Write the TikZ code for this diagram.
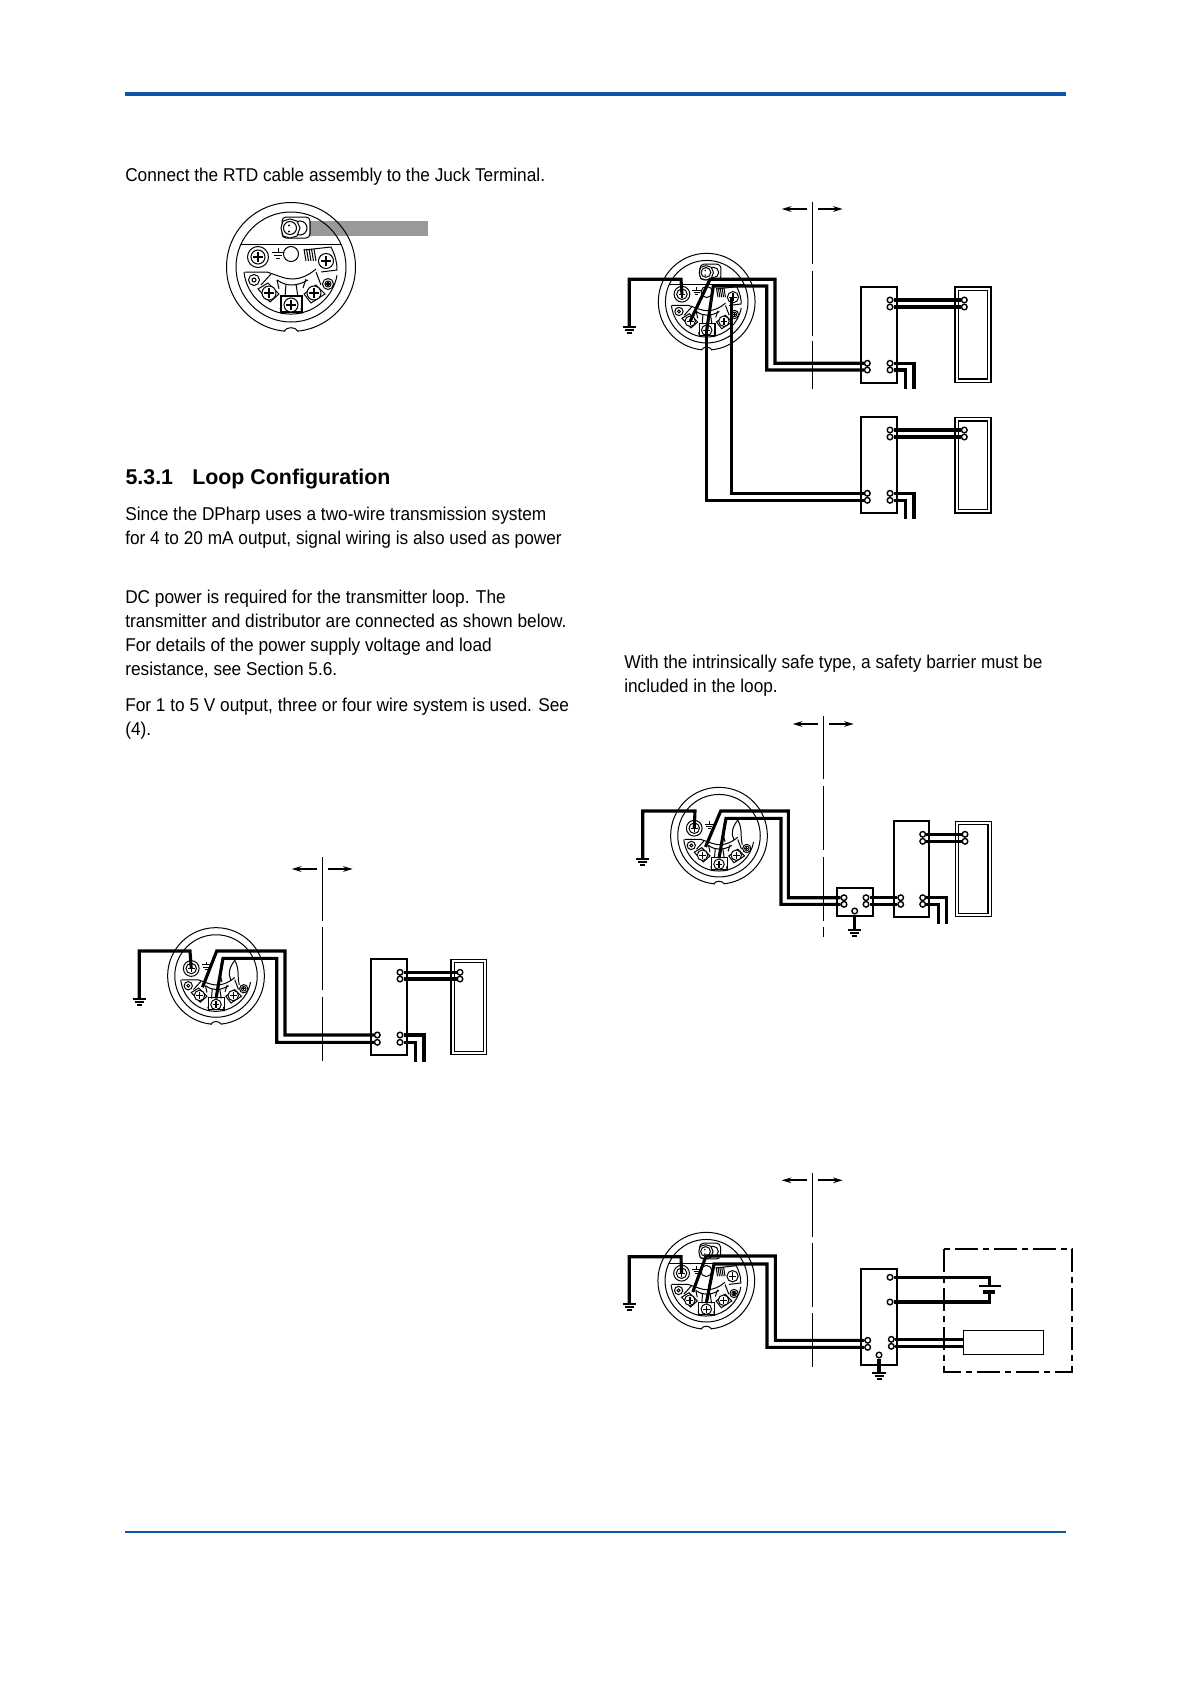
\documentclass[tikz,border=0pt]{standalone}
\usepackage{fontspec}
\setmainfont{Liberation Sans}
\newfontfamily\bodyfont[FakeStretch=.93]{Liberation Sans}
\usetikzlibrary{arrows.meta}
\definecolor{ruleblue}{HTML}{0B57A8}

% one coordinate unit is one pixel of the page
\newcommand{\headparts}{%
    \draw[hl] (0,0) circle[radius=64.5] (0,0) circle[radius=55];
    \fill[white] (-6,62) rectangle (6,67);
    \draw[hl] (-7,64.2) .. controls (-4,59.5) and (4,59.5) .. (7,64.2);
    \draw[hl] (-47,5) arc[start angle=174,end angle=10,radius=47];
    \draw[hl] (-46,5) -- (-24,5) .. controls (-12,9) and (-6,12) .. (1,12) .. controls (10,12) and (18,8) .. (25,2);
    \draw[hl] (-14,13) .. controls (-8,17) and (-4,18) .. (1,18) .. controls (6,18) and (12,16) .. (17,13);
    \draw[hl] (-20,7) -- (-30,18) (-14,13) -- (-12,22) (-5,17) -- (-6,30) (5,17) -- (7,30) (15,12) -- (12,21) (25,5) -- (30,18);
    \draw[hl] (-11,41) -- (-9,47) (10,41) -- (11,47);
    \draw[hl] (-33,22) -- (-23,16) -- (-12,27) -- (-21,35) -- cycle;
    \draw[hl,line width=.3mm] (-10,29) rectangle (11,45);
    \draw[hl] (13,27) -- (25,18) -- (34,27) -- (20,36) -- cycle;
    % screws with a cross in them
    \foreach \cx/\cy/\cr in {-33/-10/7,-22/26/7,0/38/7,23/26/7,37/17/3}{
        \draw[hl,fill=white] (\cx,\cy) circle[radius=\cr];
        \draw[hl,line width=.35mm] (\cx-.65*\cr,\cy) -- (\cx+.65*\cr,\cy) (\cx,\cy-.65*\cr) -- (\cx,\cy+.65*\cr);
    }
    \draw[hl] (-33,-10) circle[radius=10.5];
    \draw[hl] (-37,13) circle[radius=5.5] (-37,13) circle[radius=2];
    \draw[hl] (37,17) circle[radius=5.5];
    \draw[hl] (-13,-19) -- (-13,-15) (-19,-15) -- (-7,-15) (-17,-12) -- (-9,-12) (-15,-9) -- (-11,-9);
    \coordinate (-e) at (-33,-10);
    \coordinate (-u1) at (-18,15);
    \coordinate (-u2) at (0,30);
    \coordinate (-s1) at (-22,26);
    \coordinate (-s2) at (0,38);
    \coordinate (-s3) at (33,-5);
}

\tikzset{
    hl/.style={line width=.25mm},
    wire/.style={line width=.78mm,line join=miter},
    term/.style={circle,draw,fill=white,line width=.35mm,inner sep=0pt,minimum size=1.4mm},
    distbox/.style={draw,line width=.5mm,minimum width=8.8mm,minimum height=23.9mm,inner sep=0pt},
    recvbox/.style={draw,double,line width=.33mm,double distance=.5mm,minimum width=8.1mm,minimum height=23mm,inner sep=0pt},
    divider/.style={line width=.25mm},
    sidearrow/.style={line width=.5mm,-{Stealth[length=2.4mm,width=1.4mm]}},
    txt/.style={anchor=base west,inner sep=0pt,font=\bodyfont\fontsize{13.2}{16}\selectfont},
    plainhead/.pic={
        \headparts
        \draw[hl] (25,-21) .. controls (17,-10) and (16,-3) .. (20,6);
        \draw[hl] (25,-21) .. controls (32,-8) and (28,2) .. (31,12);
        \draw[hl] (8,-20) .. controls (4,-8) and (6,2) .. (8,8);
    },
    rtdhead/.pic={
        \headparts
        \draw[hl] (-50,-23) -- (50,-23);
        \draw[hl,rounded corners=1mm] (-9,-50) rectangle (19,-29);
        \draw[hl,fill=white] (9,-39) circle[radius=7];
        \draw[hl,fill=white] (-1,-48) -- (6,-46) -- (9,-39) -- (6,-31) -- (-1,-29) -- (-8,-31) -- (-10,-39) -- (-8,-46) -- cycle;
        \draw[hl] (-1,-39) circle[radius=6.5];
        \fill (-2,-41.5) circle[radius=1.1] (-2,-35.5) circle[radius=1.1];
        \draw[hl] (0,-13) circle[radius=7.5];
        \draw[hl] (13,-17) -- (40,-20) .. controls (45,-10) and (46,-3) .. (46,3) -- (30,5);
        \foreach \hx in {13,15.5,...,24}{
            \draw[hl] (\hx,-18) -- (\hx+2,-6);
        }
        \draw[hl,fill=white] (35,-6) circle[radius=7.5];
        \draw[hl,line width=.35mm] (30,-6) -- (40,-6) (35,-11) -- (35,-1);
    },
    gnd/.pic={
        \coordinate (-top) at (0,0);
        \draw[wire,line width=.45mm] (-6.7,0) -- (6.7,0) (-4.5,3) -- (4.5,3) (-2.5,6) -- (2.5,6);
    },
    sidearrows/.pic={
        \draw[sidearrow] (-5.6,0) -- (-30.6,0);
        \draw[sidearrow] (6,0) -- (30.4,0);
    },
}

\begin{document}
\begin{tikzpicture}[x=.25mm,y=-.25mm]
    \useasboundingbox (0,0) rectangle (1191,1684);
    % page rules
    \fill[ruleblue] (124.7,92) rectangle (1066,96.3);
    \fill[ruleblue] (124.7,1530.7) rectangle (1066,1532.9);

    % text of the page
    \node[txt] (txtrtd) at (125,181.7) {Connect the RTD cable assembly to the Juck Terminal.};
    \node[txt,font=\fontsize{15.2}{18}\selectfont\bfseries] (txthead) at (125.3,484.3) {5.3.1\hspace{4.8mm}Loop Configuration};
    \node[txt] (txta) at (125,520) {Since the DPharp uses a two-wire transmission system};
    \node[txt] (txtb) at (125,544.3) {for 4 to 20 mA output, signal wiring is also used as power};
    \node[txt] (txtc) at (125,603.3) {DC power is required for the transmitter loop. The};
    \node[txt] (txtd) at (125,627.7) {transmitter and distributor are connected as shown below.};
    \node[txt] (txte) at (125,651.7) {For details of the power supply voltage and load};
    \node[txt] (txtf) at (125,675.7) {resistance, see Section 5.6.};
    \node[txt] (txtg) at (125,711) {For 1 to 5 V output, three or four wire system is used. See};
    \node[txt] (txth) at (125,735) {(4).};
    \node[txt] (txti) at (624,668.3) {With the intrinsically safe type, a safety barrier must be};
    \node[txt] (txtj) at (624,692.3) {included in the loop.};

    % RTD connection
    \fill[black!40] (309,221) rectangle (427.7,236);
    \pic (headr) at (291,267) {rtdhead};

    % distributor and receiver
    \pic[scale=.75] (heada) at (216,976) {plainhead};
    \draw[divider] (322.3,857.3) -- (322.3,920.7) (322.3,927.3) -- (322.3,990) (322.3,996.7) -- (322.3,1060.7);
    \pic (arra) at (322.3,869) {sidearrows};
    \pic (gnda) at (139.3,999) {gnd};
    \node[distbox] (dista) at (389,1007) {};
    \node[recvbox] (recva) at (468.7,1007) {};
    \foreach \n/\x/\y in {ta1/377.3/1035,ta2/377.3/1042.3,ta3/400/1035,ta4/400/1042.3,ta5/400/972.3,ta6/400/979,ta7/460/972.3,ta8/460/979}
        \node[term] (\n) at (\x,\y) {};
    \draw[wire] (heada-u1) -- (216.7,951) -- (285,951) |- (ta1);
    \draw[wire] (heada-u2) -- (223,958.3) -- (276.7,958.3) |- (ta2);
    \draw[wire] (heada-e) -- (190,951) -- (139.3,951) -- (gnda-top);
    \draw[wire] (ta5) -- (ta7);
    \draw[wire] (ta6) -- (ta8);
    \draw[wire] (ta3) -- (424,1035) -- (424,1061.7);
    \draw[wire] (ta4) -- (415.7,1042.3) -- (415.7,1061.7);

    % two distributors on one transmitter
    \pic[scale=.75] (headb) at (706.7,301.7) {rtdhead};
    \draw[divider] (812.3,201.7) -- (812.3,264) (812.3,270.7) -- (812.3,335.7) (812.3,340.7) -- (812.3,389.3);
    \pic (arrb) at (812.3,209) {sidearrows};
    \pic (gndb) at (629.3,326.7) {gnd};
    \node[distbox] (distb) at (879,334.7) {};
    \node[recvbox] (recvb) at (973,334.7) {};
    \node[distbox] (distc) at (879,465.2) {};
    \node[recvbox] (recvc) at (973,465.2) {};
    \foreach \n/\x/\y in {tb1/867.3/363.3,tb2/867.3/370,tb3/890/363.3,tb4/890/370,tb5/890/300,tb6/890/307,tb7/964.3/300,tb8/964.3/307,
        tc1/867.3/493.3,tc2/867.3/500.3,tc3/890/493.3,tc4/890/500.3,tc5/890/430,tc6/890/437,tc7/964.3/430,tc8/964.3/437}
        \node[term] (\n) at (\x,\y) {};
    \draw[wire] (headb-s1) -- (710,279.3) -- (775,279.3) |- (tb1);
    \draw[wire] (headb-s2) -- (713.3,286) -- (766.7,286) |- (tb2);
    \draw[wire] (headb-s3) |- (tc1);
    \draw[wire] (headb-s2) |- (tc2);
    \draw[wire] (headb-e) -- (681,279.3) -- (629.3,279.3) -- (gndb-top);
    \draw[wire] (tb5) -- (tb7);
    \draw[wire] (tb6) -- (tb8);
    \draw[wire] (tc5) -- (tc7);
    \draw[wire] (tc6) -- (tc8);
    \draw[wire] (tb3) -- (914,363.3) -- (914,389.3);
    \draw[wire] (tb4) -- (905.7,370) -- (905.7,389.3);
    \draw[wire] (tc3) -- (914,493.3) -- (914,519.3);
    \draw[wire] (tc4) -- (905.7,500.3) -- (905.7,519.3);

    % safety barrier in the loop
    \pic[scale=.75] (headc) at (719,835.7) {plainhead};
    \draw[divider] (823.3,716) -- (823.3,779.3) (823.3,786) -- (823.3,850) (823.3,856.7) -- (823.3,920.7) (823.3,927.3) -- (823.3,937.3);
    \pic (arrc) at (823.3,724) {sidearrows};
    \pic (gndc) at (642.7,859) {gnd};
    \pic (gndd) at (854.7,930) {gnd};
    \node[distbox,minimum height=7.2mm] (barr) at (855,902) {};
    \node[distbox] (distd) at (911.7,869) {};
    \node[recvbox] (recvd) at (973.3,869) {};
    \foreach \n/\x/\y in {td1/844/897.7,td2/844/904.3,td3/866/897.7,td4/866/904.3,td5/854.7/911,
        td6/900.7/897.7,td7/900.7/904.3,td8/922.7/897.7,td9/922.7/904.3,td10/922.7/834.3,td11/922.7/841.3,td12/965/834.3,td13/965/841.3}
        \node[term] (\n) at (\x,\y) {};
    \draw[wire] (headc-u1) -- (720.7,811) -- (788.3,811) |- (td1);
    \draw[wire] (headc-u2) -- (726,818.3) -- (781,818.3) |- (td2);
    \draw[wire] (headc-e) -- (695,811) -- (642.7,811) -- (gndc-top);
    \draw[wire] (td5) -- (gndd-top);
    \draw[wire] (td3) -- (td6);
    \draw[wire] (td4) -- (td7);
    \draw[wire] (td10) -- (td12);
    \draw[wire] (td11) -- (td13);
    \draw[wire] (td8) -- (946.7,897.7) -- (946.7,924);
    \draw[wire] (td9) -- (938.3,904.3) -- (938.3,924);

    % supply and load in one enclosure
    \pic[scale=.75] (heade) at (706.3,1280.7) {rtdhead};
    \draw[divider] (812.3,1173.3) -- (812.3,1236.7) (812.3,1243.3) -- (812.3,1306.7) (812.3,1313.3) -- (812.3,1366.7);
    \pic (arre) at (812.3,1180.3) {sidearrows};
    \pic (gnde) at (629.3,1304.3) {gnd};
    \pic (gndf) at (879,1373) {gnd};
    \node[distbox] (diste) at (879,1316.7) {};
    \node[draw,line width=.25mm,minimum width=20mm,minimum height=5.9mm,inner sep=0pt] (load) at (1003.3,1342.5) {};
    \foreach \n/\x/\y in {te1/890/1277.3,te2/890/1302,te3/867.7/1340.3,te4/867.7/1347.3,te5/891.3/1339.3,te6/891.3/1346.3,te7/879/1355}
        \node[term] (\n) at (\x,\y) {};
    \coordinate (batp) at (989.3,1285.7);
    \coordinate (batn) at (989.3,1292);
    \draw[wire] (heade-u1) -- (706,1256) -- (775.3,1256) |- (te3);
    \draw[wire] (heade-u2) -- (714,1264) -- (767,1264) |- (te4);
    \draw[wire] (heade-e) -- (681,1256.7) -- (629.3,1256.7) -- (gnde-top);
    \draw[wire] (te7) -- (gndf-top);
    \draw[wire] (te1) -| (batp);
    \draw[wire] (te2) -| (batn);
    \draw[line width=.5mm] (979.3,1285.7) -- (1000.7,1285.7);
    \draw[line width=.9mm] (983.3,1292) -- (995,1292);
    \draw[wire] (te5) -- (load.west |- te5);
    \draw[wire] (te6) -- (load.west |- te6);
    \draw[line width=.5mm,dash pattern=on 5.75mm off 1.25mm on 1.5mm off 1.25mm] (943.7,1249.3) rectangle (1072.3,1371.7);
\end{tikzpicture}
\end{document}
